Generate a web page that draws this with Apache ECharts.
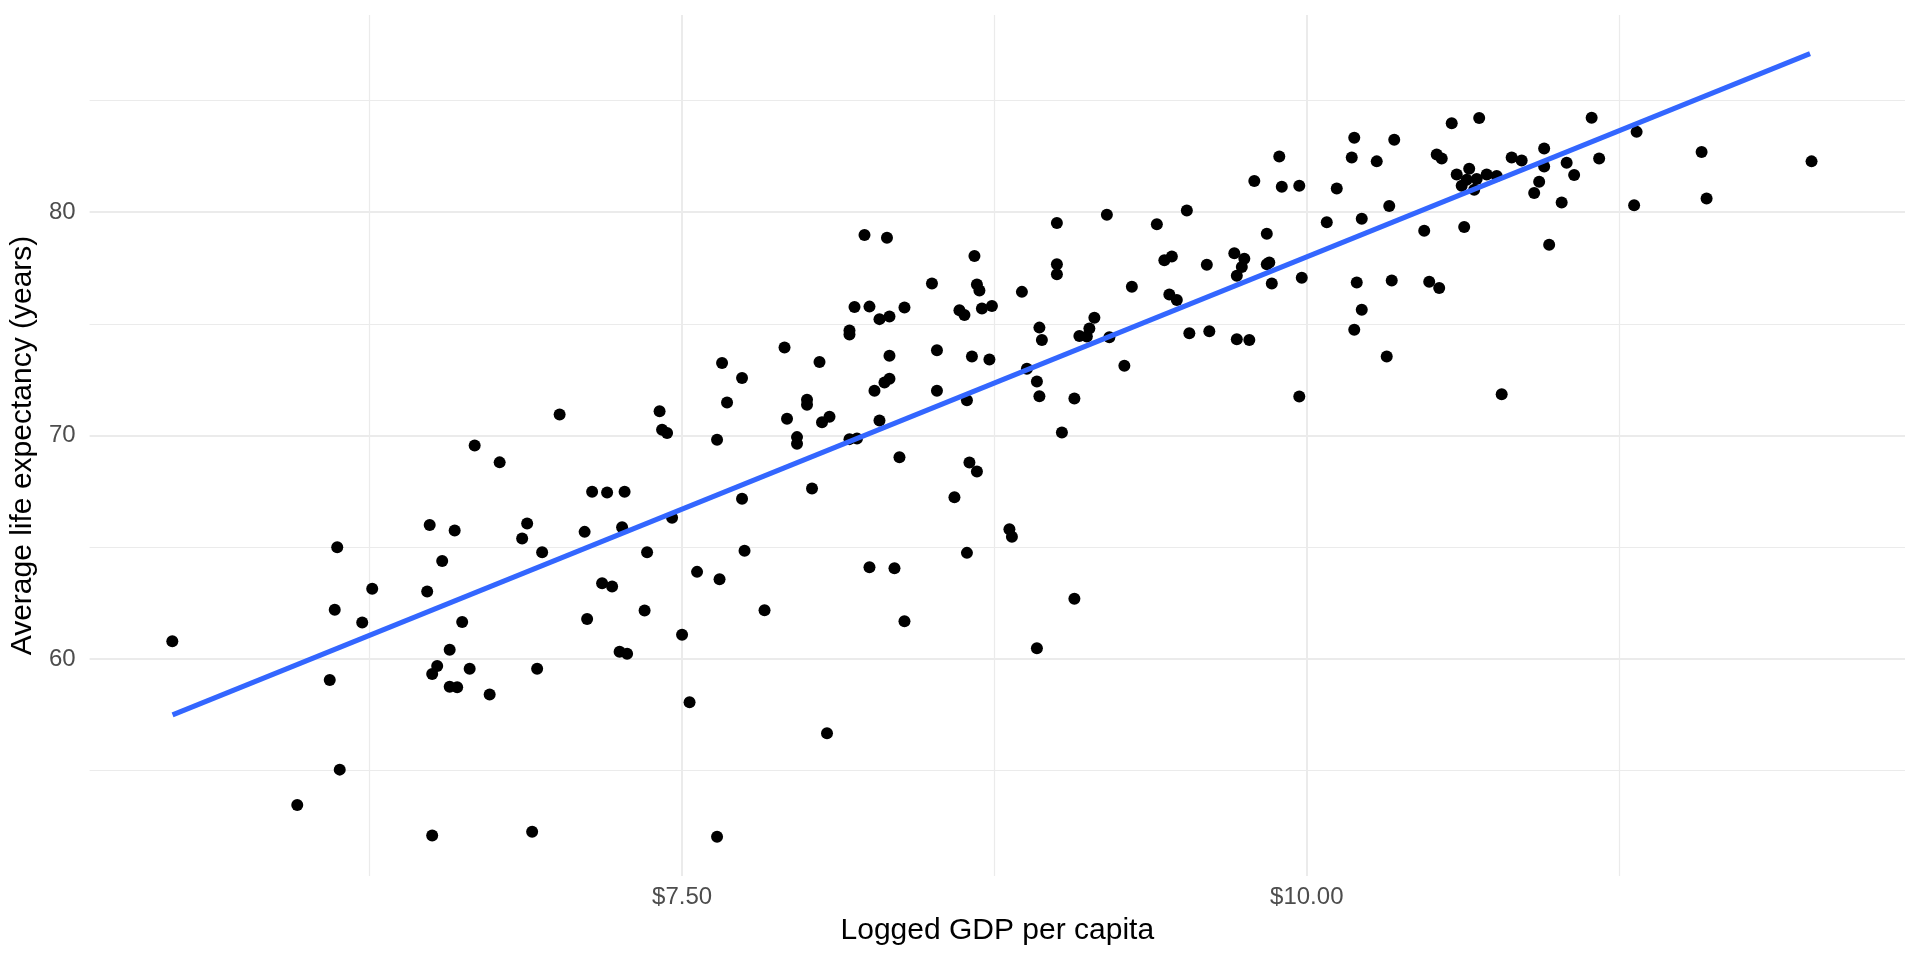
<!DOCTYPE html>
<html>
<head>
<meta charset="utf-8">
<script src="https://cdn.jsdelivr.net/npm/echarts@6/dist/echarts.min.js"></script>
<style>
  html, body { margin: 0; padding: 0; background: #ffffff; }
  #chart { width: 1920px; height: 960px; }
</style>
</head>
<body>
<div id="chart"></div>
<script>
// ---- Data ----
const gdpLogged = [
  7.01, 6.67, 6.77,
  6.49, 6.59, 6.88, 6.86, 6.94, 6.12, 6.54, 6.26, 6.48, 6.11, 6.22, 6.62, 5.46, 6.57, 6.52, 6.50, 6.65, 6.92, 6.09, 6.57, 6.60, 6.73, 6.13, 5.96, 6.50, 6.90,
  8.23, 8.32, 8.67, 8.50, 8.68, 8.69, 8.19, 8.25, 8.29, 8.33, 8.39, 8.61, 8.63, 8.70, 8.74, 8.17, 8.17, 7.91, 8.05, 7.66, 7.74, 8.33, 8.52, 8.66, 8.73, 8.33, 8.31, 8.27, 8.52, 8.64, 8.00, 8.00, 7.41, 7.68, 7.42, 7.44, 7.92, 8.06, 8.09, 8.29, 7.64, 7.96, 7.96, 8.17, 8.20, 8.37, 8.65,
  8.68, 7.14, 7.20, 7.27, 8.02, 7.74, 8.59, 7.11, 7.26, 7.46, 7.36, 7.75, 8.64, 7.56, 7.65, 8.25, 8.35, 7.18, 7.22, 7.35, 7.83, 7.12, 8.39, 7.50, 7.25, 7.28, 7.53, 8.08, 7.64,
  10.19, 10.35, 10.18, 10.28, 9.89, 9.79, 9.90, 9.97, 10.12, 10.33, 9.52, 9.00, 9.20, 9.40, 10.08, 10.22, 9.84, 9.00, 9.00, 9.43, 9.46, 9.60, 9.71, 9.75, 9.74, 9.72, 9.84, 9.85, 9.86, 9.98, 10.20, 10.34, 9.30, 8.86, 9.45, 9.48, 8.93, 8.94, 9.09, 9.12, 9.13, 9.15, 9.21, 10.22, 10.19, 10.32, 9.53, 9.61, 9.72, 9.77, 8.88, 8.92, 8.93, 9.07, 9.02, 9.27, 9.97,
  8.81, 8.82, 9.07, 8.92,
  10.58, 10.69, 11.14, 11.32, 11.58, 12.02, 11.60, 11.31, 10.52, 10.54, 10.82, 10.86, 10.95, 11.17, 10.95, 11.04, 11.07, 10.93, 10.91, 11.02,
  10.60, 10.65, 10.62, 10.64, 10.68, 10.67, 10.72, 10.76,
  10.47, 10.63, 10.97, 10.49, 10.53, 10.78
];
const lifeExp = [
  70.94, 69.55, 68.80,
  66.00, 65.75, 66.06, 65.39, 64.78, 65.00, 64.39, 63.14, 63.02, 62.21, 61.63, 61.66, 60.80, 60.42, 59.69, 59.33, 59.56, 59.56, 59.06, 58.76, 58.74, 58.41, 55.05, 53.47, 52.10, 52.27,
  78.97, 78.85, 78.04, 76.80, 76.76, 76.49, 75.75, 75.77, 75.21, 75.33, 75.73, 75.61, 75.39, 75.69, 75.80, 74.70, 74.52, 73.94, 73.29, 73.25, 72.58, 73.57, 73.82, 73.54, 73.40, 72.54, 72.37, 72.01, 72.01, 71.58, 71.60, 71.38, 71.09, 71.48, 70.26, 70.11, 70.75, 70.60, 70.84, 70.67, 69.81, 69.93, 69.63, 69.84, 69.87, 69.03, 68.79,
  68.39, 67.49, 67.45, 67.49, 67.63, 67.17, 67.24, 65.69, 65.90, 66.32, 64.78, 64.85, 64.75, 63.90, 63.57, 64.11, 64.06, 63.39, 63.24, 62.17, 62.18, 61.79, 61.69, 61.09, 60.32, 60.24, 58.07, 56.68, 52.05,
  83.33, 83.24, 82.44, 82.27, 82.49, 81.39, 81.13, 81.18, 81.06, 80.27, 80.07, 79.51, 79.88, 79.46, 79.55, 79.70, 79.03, 77.67, 77.22, 77.85, 78.01, 77.64, 78.16, 77.91, 77.54, 77.15, 77.67, 77.74, 76.80, 77.06, 76.85, 76.94, 76.66, 76.43, 76.31, 76.07, 74.83, 74.28, 74.46, 74.43, 74.79, 75.27, 74.40, 75.63, 74.74, 73.54, 74.58, 74.67, 74.31, 74.28, 72.99, 72.42, 71.76, 71.66, 70.14, 73.12, 71.75,
  65.81, 65.47, 62.70, 60.48,
  83.98, 84.21, 84.22, 83.59, 82.69, 82.27, 80.61, 80.31, 82.58, 82.40, 82.44, 82.31, 82.85, 82.40, 82.04, 82.21, 81.66, 81.36, 80.85, 80.43,
  81.68, 81.94, 81.18, 81.45, 81.48, 81.00, 81.68, 81.62,
  79.16, 79.33, 78.54, 76.88, 76.60, 71.85
];
// fitted (linear) smooth line end points
const fitX = [5.461, 12.014];
const fitY = [57.50, 87.09];

// axis ticks
const xMajorTicks = [7.5, 10];
const xMinorTicks = [6.25, 8.75, 11.25];
const yMajorTicks = [60, 70, 80];
const yMinorTicks = [55, 65, 75, 85];
const X_MIN = 5.129, X_MAX = 12.394;
const Y_MIN = 50.29, Y_MAX = 88.82;

const xTitle = 'Logged GDP per capita';
const yTitle = 'Average life expectancy (years)';

// ---- Build chart ----
const points = gdpLogged.map((x, i) => [x, lifeExp[i]]);
const fitLine = fitX.map((x, i) => [x, fitY[i]]);

const FONT = '"Liberation Sans", Arial, Helvetica, sans-serif';
const GRID_COLOR = '#EBEBEB';

const chart = echarts.init(document.getElementById('chart'), null, { renderer: 'canvas' });

function baseAxis(min, max) {
  return {
    type: 'value', min: min, max: max,
    axisLine: { show: false },
    splitArea: { show: false },
    minorTick: { show: false },
    minorSplitLine: { show: false }
  };
}

const option = {
  animation: false,
  backgroundColor: '#ffffff',
  grid: { left: 88, right: 15, top: 15, bottom: 84, containLabel: false },
  xAxis: [
    Object.assign(baseAxis(X_MIN, X_MAX), {
      position: 'bottom',
      name: xTitle,
      nameLocation: 'middle',
      nameGap: 40,
      nameTextStyle: { fontFamily: FONT, fontSize: 30, color: '#000000' },
      axisTick: { show: false, customValues: xMajorTicks },
      axisLabel: {
        show: true, customValues: xMajorTicks, margin: 9,
        fontFamily: FONT, fontSize: 24, color: '#4D4D4D',
        formatter: v => '$' + Number(v).toFixed(2)
      },
      splitLine: { show: true, lineStyle: { color: GRID_COLOR, width: 2 } }
    }),
    Object.assign(baseAxis(X_MIN, X_MAX), {
      position: 'bottom',
      axisTick: { show: false, customValues: xMinorTicks },
      axisLabel: { show: false, customValues: xMinorTicks },
      splitLine: { show: true, lineStyle: { color: GRID_COLOR, width: 1.2 } }
    })
  ],
  yAxis: [
    Object.assign(baseAxis(Y_MIN, Y_MAX), {
      position: 'left',
      name: yTitle,
      nameLocation: 'middle',
      nameGap: 45,
      nameRotate: 90,
      nameTextStyle: { fontFamily: FONT, fontSize: 30, color: '#000000' },
      axisTick: { show: false, customValues: yMajorTicks },
      axisLabel: {
        show: true, customValues: yMajorTicks, margin: 14,
        fontFamily: FONT, fontSize: 24, color: '#4D4D4D'
      },
      splitLine: { show: true, lineStyle: { color: GRID_COLOR, width: 2 } }
    }),
    Object.assign(baseAxis(Y_MIN, Y_MAX), {
      position: 'left',
      axisTick: { show: false, customValues: yMinorTicks },
      axisLabel: { show: false, customValues: yMinorTicks },
      splitLine: { show: true, lineStyle: { color: GRID_COLOR, width: 1.2 } }
    })
  ],
  series: [
    {
      type: 'scatter',
      xAxisIndex: 0, yAxisIndex: 0,
      data: points,
      symbol: 'circle',
      symbolSize: 12,
      itemStyle: { color: '#000000', opacity: 1 },
      silent: true,
      z: 2
    },
    {
      type: 'line',
      xAxisIndex: 0, yAxisIndex: 0,
      data: fitLine,
      showSymbol: false,
      symbol: 'none',
      lineStyle: { color: '#3366FF', width: 5 },
      silent: true,
      z: 3
    }
  ]
};

chart.setOption(option);
</script>
</body>
</html>
